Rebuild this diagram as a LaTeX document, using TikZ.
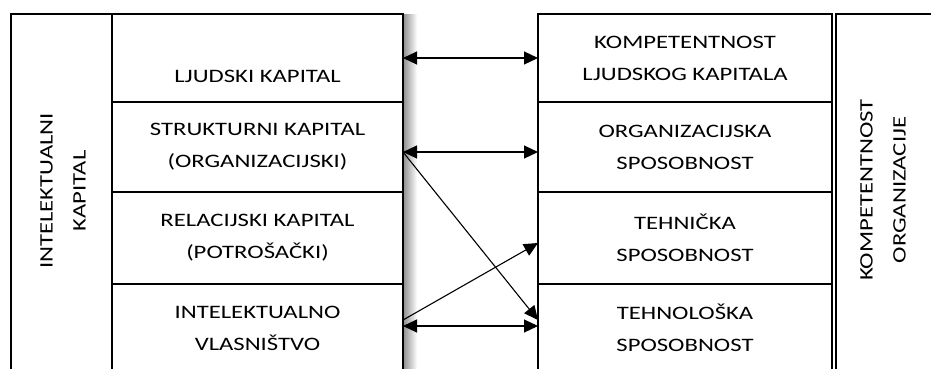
\documentclass[tikz,border=0pt]{standalone}
\usepackage{fontspec}
\setmainfont{Carlito}[FakeStretch=1.3]
\usetikzlibrary{arrows.meta,calc,positioning}

\begin{document}
\begin{tikzpicture}[x=1pt,y=-1pt,
    cell/.style={draw,line width=1.1pt,inner sep=0pt,outer sep=0pt,
        align=center,font=\fontsize{19}{32}\selectfont},
    lcell/.style={cell,minimum width=291pt},
    rcell/.style={cell,minimum width=294pt},
    side/.style={align=center,rotate=90,font=\fontsize{19}{33}\selectfont},
    link/.style={line width=1.1pt,{Triangle[length=14pt,width=13pt]}-{Triangle[length=14pt,width=13pt]}},
    cross/.style={line width=1.1pt,-{Triangle[length=14pt,width=13pt]}}]
    \useasboundingbox (0,0) rectangle (931,368);
    \clip (0,0) rectangle (931,368);
    %Shade
    \shade[left color=black!45,right color=white] (403,14) rectangle (417,380);
    %Outer columns
    \draw[line width=1.1pt] (11,380) -- (11,14) -- (112,14) -- (112,380);
    \draw[line width=1.1pt] (836,380) -- (836,14) -- (960,14);
    \node[side] (ik) at (63,191) {INTELEKTUALNI\\KAPITAL};
    \node[side] (ko) at (883,190) {KOMPETENTNOST\\ORGANIZACIJE};
    %Left cells
    \node[lcell,minimum height=88pt] (lk) at (257.5,58) {};
    \node[cell,draw=none] at ([yshift=-18pt]lk.center) {LJUDSKI KAPITAL};
    \node[lcell,minimum height=90pt] (sk) at (257.5,147) {STRUKTURNI KAPITAL\\(ORGANIZACIJSKI)};
    \node[lcell,minimum height=92pt] (rk) at (257.5,238) {RELACIJSKI KAPITAL\\(POTROŠAČKI)};
    \node[lcell,minimum height=88pt] (iv) at (257.5,328) {INTELEKTUALNO\\VLASNIŠTVO};
    %Right cells
    \node[rcell,minimum height=88pt] (kl) at (685,58) {KOMPETENTNOST\\LJUDSKOG KAPITALA};
    \node[rcell,minimum height=90pt] (os) at (685,147) {ORGANIZACIJSKA\\SPOSOBNOST};
    \node[rcell,minimum height=92pt] (ts) at (685,238) {TEHNIČKA\\SPOSOBNOST};
    \node[rcell,minimum height=88pt] (tl) at (685,328) {TEHNOLOŠKA\\SPOSOBNOST};
    %Arrows
    \draw[link] (lk.east) -- (kl.west);
    \draw[link] ([yshift=-5pt]sk.east) -- ([yshift=-5pt]os.west);
    \draw[link] ([yshift=2pt]iv.east) -- ([yshift=2pt]tl.west);
    \draw[cross] ([yshift=-5pt]sk.east) -- ([yshift=8pt]tl.west);
    \draw[cross] ([yshift=8pt]iv.east) -- ([yshift=-5pt]ts.west);
\end{tikzpicture}
\end{document}
